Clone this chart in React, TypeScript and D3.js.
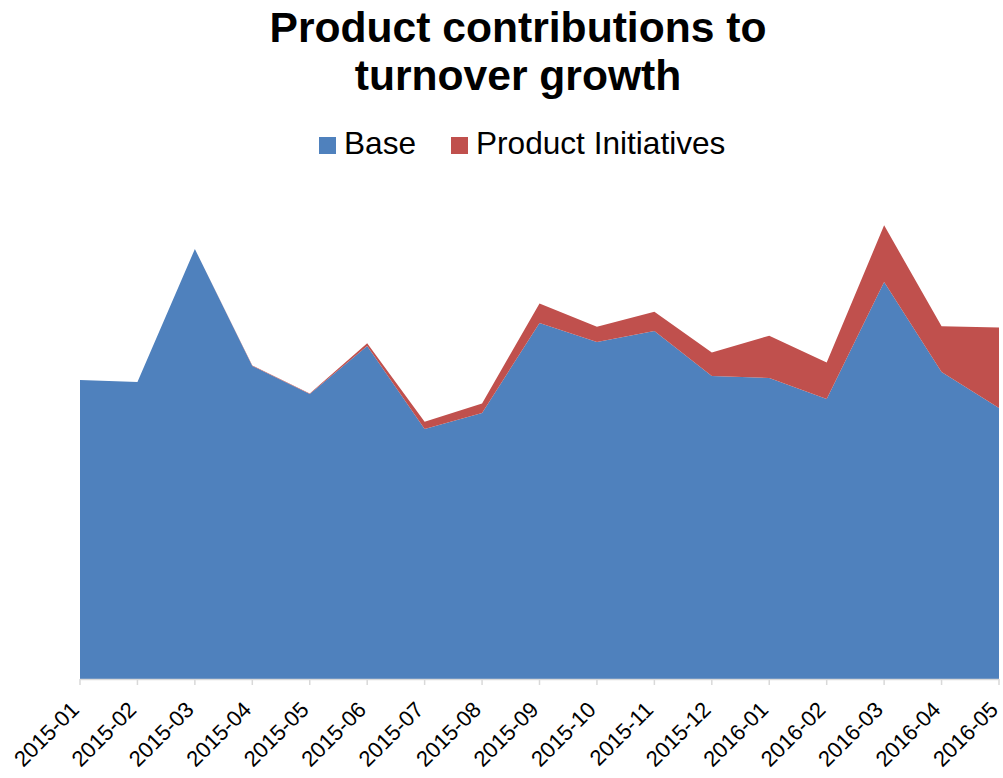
import React from "react";
import * as d3 from "d3";

const months = [
  "2015-01", "2015-02", "2015-03", "2015-04", "2015-05", "2015-06", "2015-07", "2015-08",
  "2015-09", "2015-10", "2015-11", "2015-12", "2016-01", "2016-02", "2016-03", "2016-04", "2016-05",
];
const baseValues = [299, 297, 430, 313, 285, 333, 250, 266, 356, 337, 348, 303, 301, 280, 397, 307, 271];
const initiativeValues = [0, 0, 0, 0.5, 0.5, 2.7, 7.3, 9.6, 19.4, 15.3, 19.3, 23.5, 42.3, 36.4, 56.7, 45.7, 80.6];
const seriesNames = ["Base", "Product Initiatives"];
const seriesColors = ["#4F81BD", "#C0504D"];
const titleLines = ["Product contributions to", "turnover growth"];

const W = 1003;
const H = 778;
const left = 80;
const right = 999;
const bottom = 679;
const top = 179;

export default function App() {
  const x = d3.scalePoint<string>().domain(months).range([left, right]);
  const y = d3.scaleLinear().domain([0, 500]).range([bottom, top]);

  const rows = months.map((m, i) => ({ m, base: baseValues[i], init: initiativeValues[i] }));
  const stack = d3.stack<any>().keys(["base", "init"])(rows);
  const area = d3
    .area<any>()
    .x((d) => x(d.data.m) as number)
    .y0((d) => y(d[0]))
    .y1((d) => y(d[1]));

  const font = "'Liberation Sans', Arial, sans-serif";

  return (
    <svg width={W} height={H} style={{ position: "absolute", left: 0, top: 0, background: "#fff" }} fontFamily={font}>
      <text x={518} y={42} textAnchor="middle" fontSize={42.6} fontWeight="bold" fill="#000">
        {titleLines[0]}
      </text>
      <text x={518} y={90} textAnchor="middle" fontSize={42.6} fontWeight="bold" fill="#000">
        {titleLines[1]}
      </text>

      <g>
        <rect x={319} y={137} width={17} height={17} fill={seriesColors[0]} />
        <text x={344} y={154} fontSize={31.6} fill="#000">{seriesNames[0]}</text>
        <rect x={451} y={137} width={17} height={17} fill={seriesColors[1]} />
        <text x={476} y={154} fontSize={31.6} fill="#000">{seriesNames[1]}</text>
      </g>

      {stack.map((s, i) => (
        <path key={i} d={area(s as any) || ""} fill={seriesColors[i]} />
      ))}

      <line x1={left} x2={right} y1={bottom + 0.5} y2={bottom + 0.5} stroke="#d9d9d9" strokeWidth={1.5} />
      {months.map((m) => {
        const xx = x(m) as number;
        return (
          <g key={m}>
            <line x1={xx} x2={xx} y1={bottom} y2={bottom + 6} stroke="#d9d9d9" strokeWidth={1.5} />
            <text
              transform={`translate(${xx + 0.3},${711}) rotate(-45)`}
              textAnchor="end"
              fontSize={22}
              fill="#000"
            >
              {m}
            </text>
          </g>
        );
      })}
    </svg>
  );
}
